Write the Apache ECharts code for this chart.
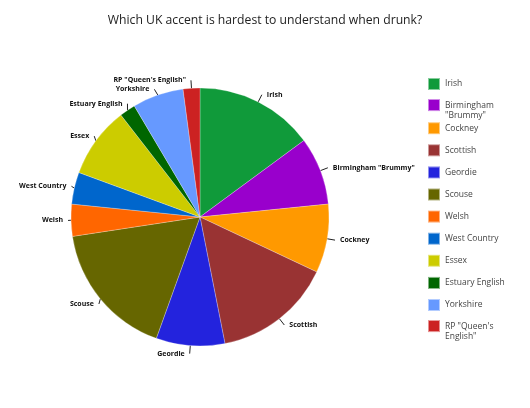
<!DOCTYPE html>
<html>
<head>
<meta charset="utf-8">
<script src="https://cdn.jsdelivr.net/npm/echarts@6/dist/echarts.min.js"></script>
<style>html,body{margin:0;padding:0;background:#fff;}#c{width:530px;height:408px;}</style>
</head>
<body>
<div id="c"></div>
<script>
var categories = ['Irish', 'Birmingham "Brummy"', 'Cockney', 'Scottish', 'Geordie', 'Scouse', 'Welsh', 'West Country', 'Essex', 'Estuary English', 'Yorkshire', 'RP "Queen\'s English"'];
var values = [14.9, 8.5, 8.6, 14.9, 8.6, 17.1, 4.0, 4.0, 8.9, 2.0, 6.4, 2.1];
var colors = ['#109a3a', '#9900cc', '#ff9900', '#993333', '#2323dd', '#666600', '#ff6600', '#0066cc', '#cccc00', '#006600', '#6699ff', '#cc2222'];
var legendLabels = ['Irish', 'Birmingham\n"Brummy"', 'Cockney', 'Scottish', 'Geordie', 'Scouse', 'Welsh', 'West Country', 'Essex', 'Estuary English', 'Yorkshire', 'RP "Queen\'s\nEnglish"'];

var FONT = '"Comic Sans MS", "Open Sans", sans-serif';
var chart = echarts.init(document.getElementById('c'));

var legends = categories.map(function (name, i) {
  var twoLine = legendLabels[i].indexOf('\n') >= 0;
  var iconTop = 77 + i * 22.1;
  return {
    data: [name],
    orient: 'vertical',
    left: 427,
    top: twoLine ? iconTop - 9 : iconTop,
    itemWidth: 12,
    itemHeight: 12,
    itemGap: 10,
    icon: 'rect',
    padding: 0,
    selectedMode: false,
    formatter: function () { return twoLine ? ' \n' + legendLabels[i] : legendLabels[i]; },
    textStyle: {
      fontFamily: FONT,
      fontSize: 8.5,
      color: '#444',
      lineHeight: 10
    }
  };
});

chart.setOption({
  animation: false,
  color: colors,
  title: {
    text: 'Which UK accent is hardest to understand when drunk?',
    left: 'center',
    top: 10,
    textStyle: { fontFamily: FONT, fontSize: 12.2, fontWeight: 'normal', color: '#222' }
  },
  legend: legends,
  series: [{
    type: 'pie',
    center: [200, 217],
    radius: 129,
    startAngle: 90,
    clockwise: true,
    data: categories.map(function (n, i) { return { name: n, value: values[i] }; }),
    itemStyle: { borderColor: 'rgba(255,255,255,0.5)', borderWidth: 0.5 },
    label: {
      show: true,
      position: 'outside',
      fontFamily: FONT,
      fontSize: 7,
      fontWeight: 'bold',
      color: '#111',
      formatter: '{b}'
    },
    labelLine: {
      show: true,
      length: 8,
      length2: 0,
      lineStyle: { color: '#222', width: 1 }
    },
    emphasis: { disabled: true }
  }]
});
</script>
</body>
</html>
